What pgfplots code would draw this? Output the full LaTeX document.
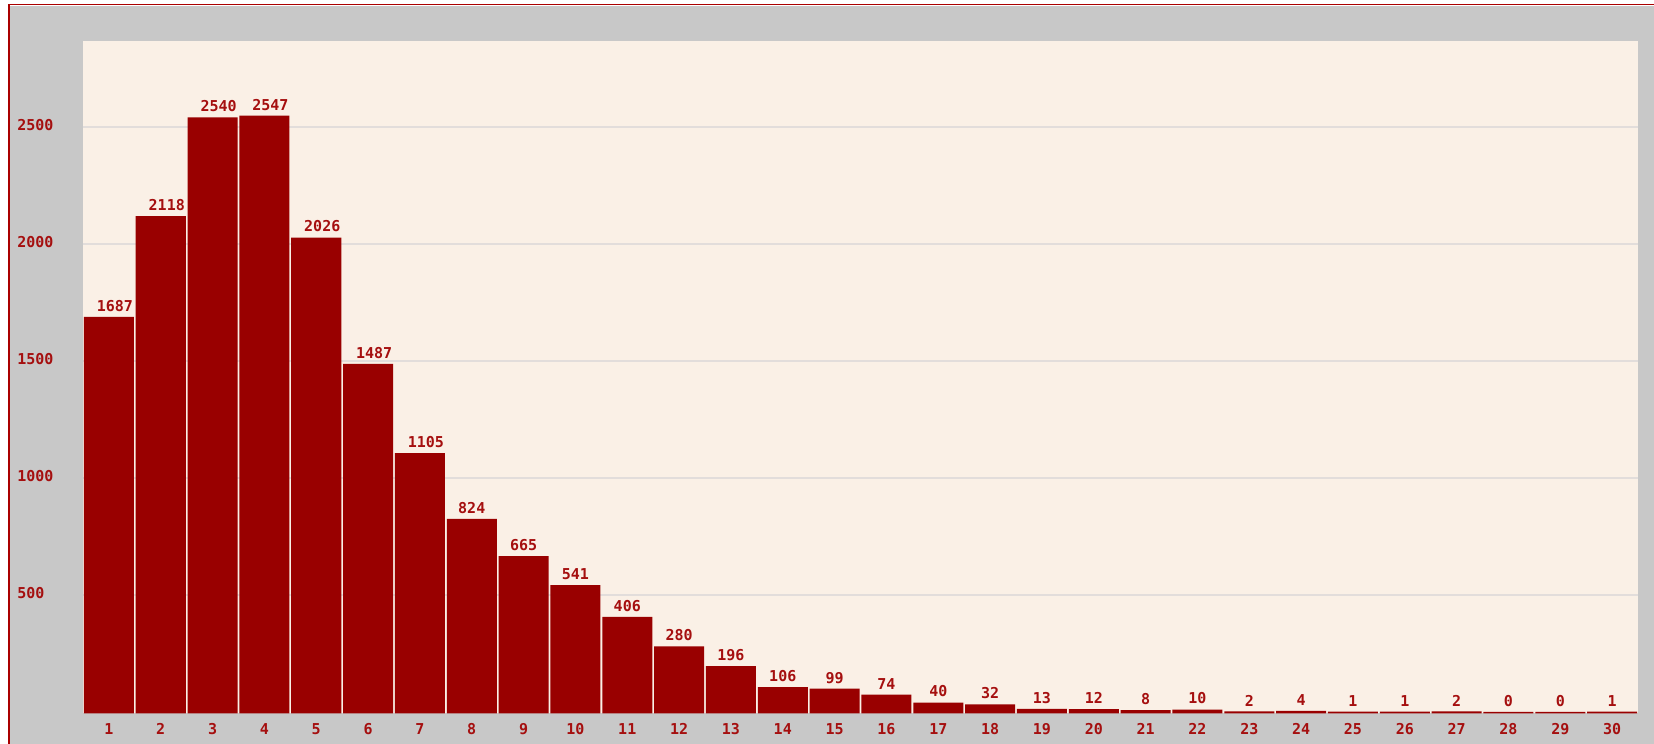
\documentclass[border=0pt]{standalone}
\usepackage{fontspec}
\usepackage{pgfplots}
\pgfplotsset{compat=1.18}
\usepackage{pgfplotstable}
\newfontfamily\labfont{DejaVu Sans Mono}
\definecolor{bg}{RGB}{200,200,200}
\definecolor{cream}{RGB}{250,240,230}
\definecolor{barred}{RGB}{153,0,0}
\definecolor{txtred}{RGB}{165,15,15}
\definecolor{gridc}{RGB}{226,221,219}
\definecolor{framec}{RGB}{170,0,0}
\pgfplotstableread{
x y
1 1687
2 2118
3 2540
4 2547
5 2026
6 1487
7 1105
8 824
9 665
10 541
11 406
12 280
13 196
14 106
15 99
16 74
17 40
18 32
19 13
20 12
21 8
22 10
23 2
24 4
25 1
26 1
27 2
28 0
29 0
30 1
}\datatable
\begin{document}
\begin{tikzpicture}[x=0.5bp,y=0.5bp]
\fill[white] (0,0) rectangle (1654,744);
\fill[bg] (9,0) rectangle (1654,738);
\draw[framec, line width=0.75bp] (8.75,0) -- (8.75,739.25) -- (1654,739.25);
\begin{axis}[
  at={(41.5bp,15.35bp)}, anchor=south west,
  scale only axis, width=777.5bp, height=336.15bp,
  xmin=0.5, xmax=30.5, ymin=-6, ymax=2866,
  y coord trafo/.code={\pgfmathparse{#1+6}},
  y coord inv trafo/.code={\pgfmathparse{#1-6}},
  axis background/.style={fill=cream},
  axis line style={draw=none},
  major tick length=0pt,
  xtick={1,...,30},
  ytick={500,1000,1500,2000,2500},
  ymajorgrids,
  grid style={gridc, line width=1bp},
  ticklabel style={font=\labfont\bfseries\fontsize{7.5bp}{9bp}\selectfont, text=txtred},
  xticklabel style={anchor=north, inner sep=0pt, yshift=-5bp},
  yticklabel style={anchor=west, inner sep=0pt, xshift=-33bp, yshift=0.8bp},
  /pgf/number format/assume math mode=true,
  /pgf/number format/1000 sep={},
  scaled y ticks=false,
  ybar, bar width=0.965,
  nodes near coords={\ifnum\pgfplotspointmeta>999 \hspace*{6bp}\fi\pgfplotspointmeta},
  every node near coord/.append style={font=\labfont\bfseries\fontsize{7.5bp}{9bp}\selectfont, text=txtred, inner sep=0pt, yshift=2.5bp, anchor=south},
]
\addplot[fill=barred, draw=none, point meta=explicit symbolic] table[x=x, y=y, meta=y] {\datatable};
\end{axis}
\pgfresetboundingbox
\path[use as bounding box] (0,0) rectangle (1654,744);
\end{tikzpicture}
\end{document}
